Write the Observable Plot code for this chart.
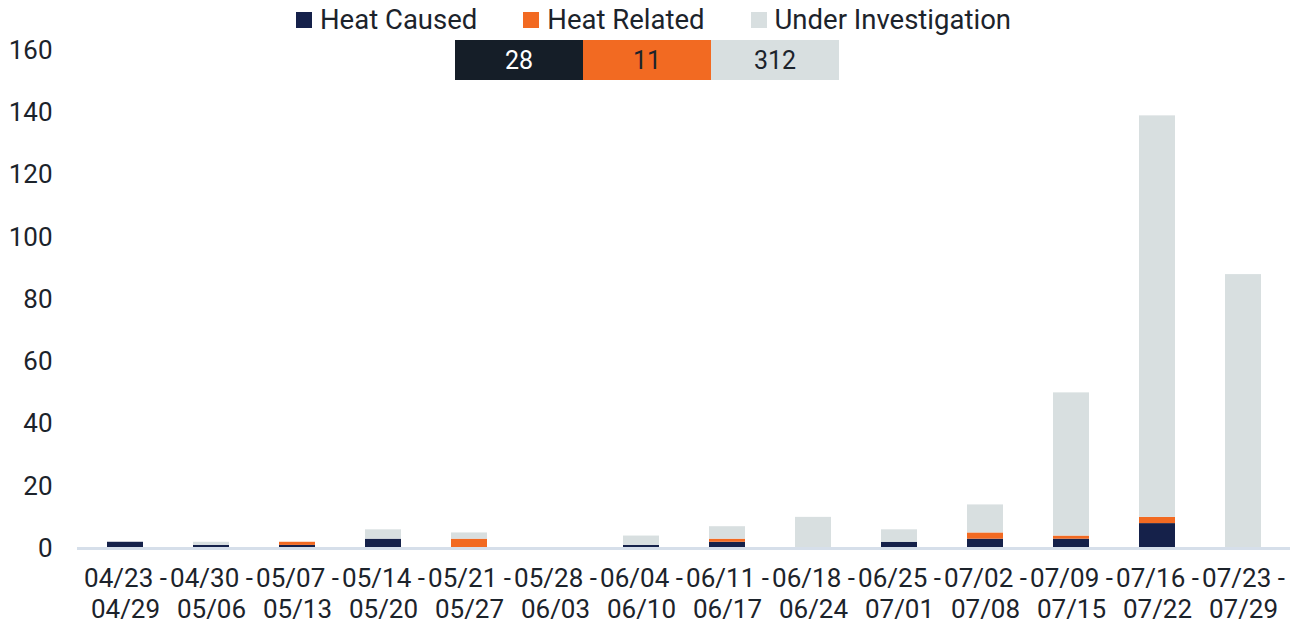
<!DOCTYPE html>
<html>
<head>
<meta charset="utf-8">
<script src="https://cdn.jsdelivr.net/npm/d3@7"></script>
<script src="https://cdn.jsdelivr.net/npm/@observablehq/plot@0.6"></script>
<style>
  html, body { margin: 0; padding: 0; background: #fff; }
  #wrap { position: relative; width: 1306px; height: 627px; font-family: Roboto, sans-serif; color: #1c232b; }
  #legend { position: absolute; top: 3px; left: 296px; display: flex; gap: 46px; font-size: 27.5px; line-height: 34px; white-space: nowrap; }
  #legend .item { display: flex; align-items: center; gap: 8px; }
  #legend .sw { width: 16px; height: 16px; display: inline-block; }
  #totals { position: absolute; top: 40px; left: 455px; display: flex; height: 40px; font-size: 25px; }
  #totals div { width: 128px; display: flex; align-items: center; justify-content: center; }
  #chart { position: absolute; top: 0; left: 0; }
</style>
</head>
<body>
<div id="wrap">
  <div id="chart"></div>
  <div id="legend"></div>
  <div id="totals"></div>
</div>
<script>
const weekStart = ["04/23","04/30","05/07","05/14","05/21","05/28","06/04","06/11","06/18","06/25","07/02","07/09","07/16","07/23"];
const weekEnd   = ["04/29","05/06","05/13","05/20","05/27","06/03","06/10","06/17","06/24","07/01","07/08","07/15","07/22","07/29"];
const heatCaused   = [2, 1, 1, 3, 0, 0, 1, 2, 0, 2, 3, 3, 8, 0];
const heatRelated  = [0, 0, 1, 0, 3, 0, 0, 1, 0, 0, 2, 1, 2, 0];
const underInvest  = [0, 1, 0, 3, 2, 0, 3, 4, 10, 4, 9, 46, 129, 88];
const categories = ["Heat Caused", "Heat Related", "Under Investigation"];
const totals = [28, 11, 312];
const yTicks = [0, 20, 40, 60, 80, 100, 120, 140, 160];

const colors = ["#15214a", "#f26a22", "#d8dfe0"];
const totalColors = ["#151e28", "#f26a22", "#d8dfe0"];
const totalText = ["#ffffff", "#1c232b", "#1c232b"];

const labels = weekStart.map((s, i) => s + " -\n" + weekEnd[i]);
const series = [heatCaused, heatRelated, underInvest];
const data = [];
labels.forEach((lab, i) => {
  categories.forEach((c, k) => data.push({week: lab, type: c, value: series[k][i]}));
});

const plot = Plot.plot({
  width: 1306,
  height: 627,
  marginTop: 50,
  marginBottom: 79,
  marginLeft: 77,
  marginRight: 16,
  style: {fontFamily: "Roboto, sans-serif", fontSize: "26px", color: "#1c232b", background: "transparent"},
  x: {domain: labels, paddingInner: 0.585, paddingOuter: 0.2925, label: null},
  y: {domain: [0, 160], label: null},
  color: {domain: categories, range: colors},
  marks: [
    Plot.barY(data, {x: "week", y: "value", fill: "type", order: categories}),
    Plot.ruleY([0], {stroke: "#d6dfea", strokeWidth: 3}),
    Plot.axisX({tickSize: 0, tickPadding: 16, fontSize: 26, lineHeight: 1.2, fill: "#1c232b"}),
    Plot.axisY({ticks: yTicks, tickSize: 0, tickPadding: 25, fontSize: 26, fill: "#1c232b"})
  ]
});
document.getElementById("chart").appendChild(plot);

const legend = document.getElementById("legend");
categories.forEach((c, k) => {
  const it = document.createElement("div");
  it.className = "item";
  it.innerHTML = `<span class="sw" style="background:${colors[k]}"></span><span>${c}</span>`;
  legend.appendChild(it);
});
const tot = document.getElementById("totals");
totals.forEach((t, k) => {
  const d = document.createElement("div");
  d.style.background = totalColors[k];
  d.style.color = totalText[k];
  d.textContent = t;
  tot.appendChild(d);
});
</script>
</body>
</html>
